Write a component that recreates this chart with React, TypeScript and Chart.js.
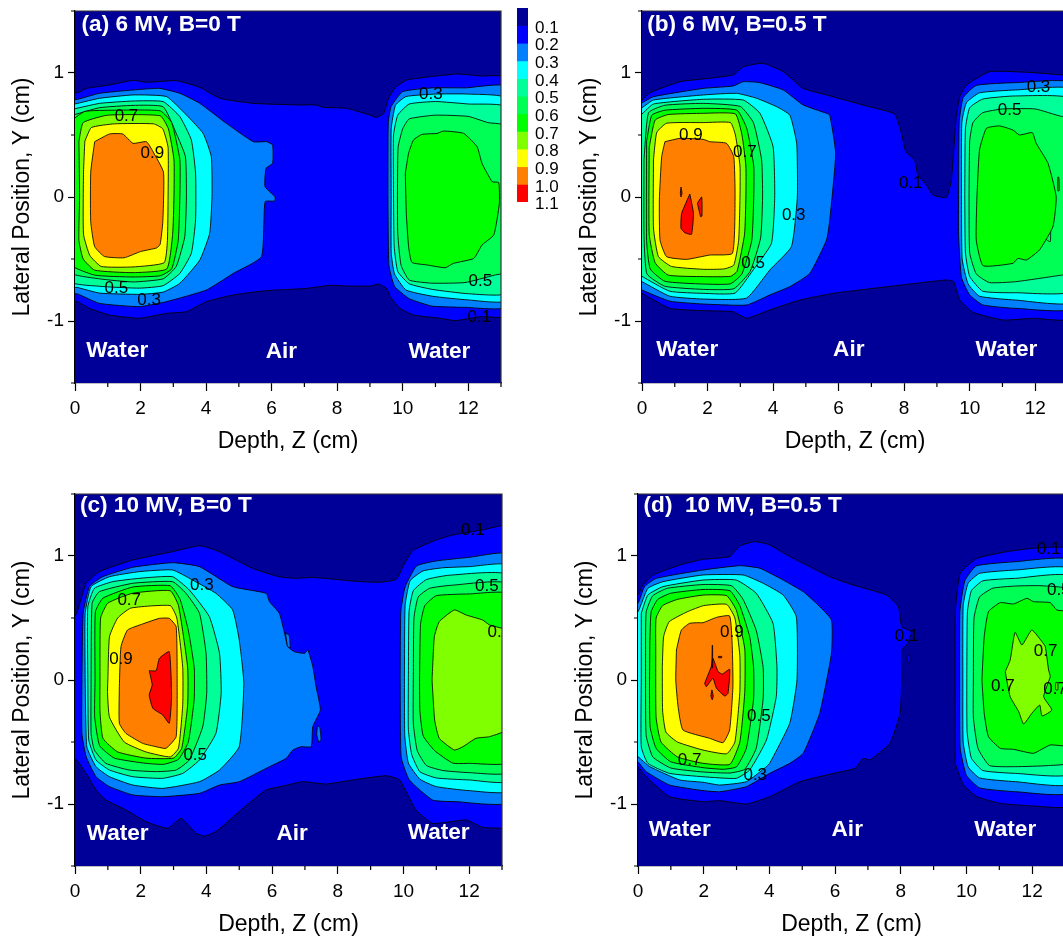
import React, { useEffect, useRef } from "react";
import { Chart, registerables } from "chart.js";

Chart.register(...registerables);

type Contour = [number, number[]];
type Label = [string, number, number];

const levels = [0, 0.1, 0.2, 0.3, 0.4, 0.5, 0.6, 0.7, 0.8, 0.9, 1.0];
const bandColors = ["#000099", "#0000ff", "#0080ff", "#00ffff", "#00ff99", "#00ff55", "#00ff00", "#80ff00", "#ffff00", "#ff8000", "#ff0000"];
const barLabels = ["0.1", "0.2", "0.3", "0.4", "0.5", "0.6", "0.7", "0.8", "0.9", "1.0", "1.1"];
const xTicks = [0, 2, 4, 6, 8, 10, 12];
const xMinor = [1, 3, 5, 7, 9, 11, 13];
const yTicks = [-1, 0, 1];
const yMinor = [-1.5, -0.5, 0.5, 1.5];
const backdrop = [-1, -2, 14, -2, 14, 2, -1, 2];

const contoursA: Contour[] = [
  [0.1, [-.2,.84,.08,.841,.34,.876,1.05,.903,1.77,.941,2.18,.925,3.09,.938,3.81,.884,4.42,.796,5.44,.755,6.86,.742,7.37,.742,7.58,.723,8.29,.715,9,.661,9.2,.642,9.42,.675,9.57,.796,9.78,.884,10.13,.944,10.84,.97,11.66,.992,12.37,.976,13.2,.96,13.2,-.955,12.37,-.965,11.6,-.997,11.15,-.978,10.33,-.952,9.92,-.898,9.62,-.804,9.51,-.737,9.26,-.702,9,-.718,8.29,-.718,7.78,-.712,7.07,-.737,5.85,-.755,4.83,-.79,4.01,-.844,3.4,-.925,2.79,-.938,1.97,-.978,1.05,-.952,.44,-.898,.08,-.844,-.2,-.84]],
  [0.2, [-.2,.78,.08,.788,.75,.836,1.77,.863,2.58,.876,3.2,.836,3.81,.755,4.62,.594,5.44,.446,5.85,.446,6.03,.419,6.03,.272,5.83,.231,5.8,.083,6.1,.003,6.1,-.032,5.8,-.038,5.69,-.481,4.83,-.616,4.01,-.75,2.79,-.844,1.97,-.884,.75,-.858,.08,-.782,-.2,-.77]],
  [0.3, [-.2,.74,.08,.755,.75,.796,1.77,.823,2.79,.81,3.4,.661,3.91,.513,4.16,.325,4.18,.003,4.11,-.293,3.81,-.508,3.2,-.696,2.69,-.767,1.97,-.785,.75,-.775,.08,-.73,-.2,-.72]],
  [0.4, [-.2,.7,.75,.755,1.77,.774,2.69,.769,3.2,.648,3.55,.46,3.68,.19,3.68,-.185,3.55,-.454,3.2,-.616,2.69,-.715,1.97,-.735,.75,-.72,-.2,-.675]],
  [0.5, [-.2,.65,.75,.72,1.77,.739,2.69,.728,3.09,.513,3.37,.325,3.4,0,3.35,-.32,3.09,-.56,2.69,-.66,1.77,-.685,.75,-.66,-.2,-.6]],
  [0.6, [-.2,.6,.3,.69,1.2,.7,2.6,.695,2.95,.6,3.2,.3,3.2,0,3.15,-.35,2.95,-.58,2.6,-.635,1.77,-.645,.6,-.63,-.2,-.53]],
  [0.7, [.12,.45,.25,.6,1,.66,2.6,.655,2.85,.55,3.02,.3,3.02,0,2.98,-.3,2.8,-.58,1.77,-.61,.6,-.59,.25,-.5,.12,-.35,.14,0]],
  [0.8, [.3,.45,.5,.56,1.2,.59,2.4,.59,2.68,.55,2.84,.4,2.84,0,2.82,-.35,2.72,-.53,1.77,-.564,.8,-.56,.45,-.47,.26,-.3,.26,.2]],
  [0.9, [.6,.446,1.05,.508,1.46,.508,1.77,.433,2.18,.446,2.38,.366,2.7,.2,2.68,-.2,2.6,-.38,2.5,-.41,2,-.44,1.5,-.49,.9,-.48,.6,-.4,.48,-.2,.48,.2]],
  [0.2, [9.55,0,9.56,.6,9.65,.73,10,.85,10.9,.88,11.9,.88,13.2,.885,13.2,-.88,11.9,-.89,10.9,-.88,10.2,-.82,9.75,-.72,9.58,-.55]],
  [0.3, [9.65,0,9.65,.55,9.78,.74,10.1,.81,11,.83,12,.83,13.2,.79,13.2,-.83,12,-.83,10.9,-.8,10.1,-.75,9.75,-.62,9.65,-.45]],
  [0.4, [9.72,0,9.72,.5,9.85,.66,10.2,.75,11,.77,12,.75,13.2,.72,13.2,-.77,12,-.78,10.9,-.745,10.2,-.7,9.85,-.6,9.74,-.4]],
  [0.5, [9.84,0,9.86,.4,10,.55,10.2,.63,11,.66,12,.65,12.6,.6,13.2,.57,13.2,-.6,12.8,-.63,11.9,-.69,10.9,-.695,10.2,-.67,9.95,-.55,9.85,-.3]],
  [0.6, [10.08,.191,10.18,.352,10.33,.46,10.59,.505,11.05,.513,11.25,.532,11.86,.513,12.27,.406,12.42,.272,12.73,.124,12.93,.116,12.95,-.051,12.78,-.306,12.42,-.387,12.17,-.495,11.55,-.535,11.3,-.57,10.74,-.548,10.28,-.527,10.18,-.4,10.11,-.132]],
];

const contoursB: Contour[] = [
  [0.1, [-.2,.75,0,.782,.24,.841,1.16,.93,1.87,.952,2.78,.984,3.09,1.051,3.7,1.078,4.31,1.011,4.92,.876,5.63,.823,6.85,.734,7.71,.669,7.92,.513,8.05,.366,8.32,.298,8.42,.177,8.68,.097,8.88,.016,9.29,-.003,9.44,.137,9.59,.648,9.7,.809,9.9,.903,10.61,1.011,11.93,1.003,12.83,.984,13.2,.98,13.2,-.975,11.93,-.978,11.02,-.992,10.1,-.93,9.7,-.831,9.51,-.683,9.29,-.669,8.37,-.696,7.05,-.737,5.83,-.777,4.82,-.831,3.9,-.911,3.19,-.978,2.78,-.925,1.87,-.917,.85,-.898,0,-.777,-.2,-.75]],
  [0.2, [-.2,.74,0,.76,.35,.809,1.87,.876,2.78,.895,3.09,.93,3.6,.922,4.31,.863,4.92,.742,5.63,.675,5.73,.661,5.91,.352,5.73,-.185,5.63,-.347,5.12,-.616,4.51,-.723,3.9,-.79,3.19,-.871,1.87,-.863,.85,-.84,0,-.75,-.2,-.72]],
  [0.3, [-.2,.7,0,.72,.35,.782,1.87,.823,2.89,.836,3.5,.796,4.11,.728,4.51,.661,4.72,.433,4.74,0,4.56,-.4,3.9,-.589,3.19,-.815,1.87,-.823,.85,-.8,0,-.683,-.2,-.66]],
  [0.4, [-.2,.64,0,.67,.35,.75,1.87,.788,3.09,.782,3.6,.675,4,.406,4.05,0,3.95,-.374,3.39,-.589,2.84,-.775,1.87,-.777,.85,-.76,0,-.64,-.2,-.6]],
  [0.5, [.06,.3,.2,.68,.7,.74,1.87,.755,3,.73,3.4,.6,3.65,.3,3.68,0,3.62,-.33,3.3,-.6,2.8,-.74,1.87,-.745,.7,-.72,.15,-.62,.06,-.3]],
  [0.6, [.14,.45,.3,.66,.7,.7,1.87,.715,2.9,.7,3.2,.55,3.41,.25,3.41,0,3.35,-.35,3.05,-.62,2.7,-.7,1.87,-.702,.7,-.68,.25,-.58,.14,-.35]],
  [0.7, [.22,.4,.4,.62,.8,.665,1.87,.675,2.85,.67,3.05,.5,3.17,.25,3.17,0,3.13,-.3,2.9,-.6,2.7,-.64,1.87,-.642,.8,-.63,.4,-.53,.22,-.3]],
  [0.8, [.35,.3,.45,.52,.75,.595,1.87,.6,2.7,.6,2.85,.5,2.99,.25,2.99,0,2.95,-.35,2.8,-.55,2.5,-.58,1.87,-.583,.9,-.56,.5,-.48,.35,-.25]],
  [0.9, [.7,.446,1.16,.473,1.87,.465,2.07,.446,2.58,.433,2.8,.325,2.84,0,2.76,-.454,2.07,-.468,1.36,-.503,.75,-.481,.55,-.347,.53,-.024,.6,.325]],
  [1.0, [1.46,.024,1.57,-.132,1.51,-.301,1.31,-.288,1.19,-.253,1.21,-.132]],
  [1.0, [1.69,-.05,1.82,0,1.83,-.153,1.79,-.159]],
  [1.0, [1.19,.08,1.22,.03,1.19,0,1.17,.03]],
  [0.2, [9.66,0,9.68,.6,9.8,.8,10.2,.9,11.4,.922,13.2,.91,13.2,-.89,11.4,-.898,10.4,-.87,10,-.79,9.75,-.65,9.66,-.3]],
  [0.3, [9.75,0,9.76,.6,9.9,.76,10.3,.84,11.4,.863,13.2,.86,13.2,-.84,11.4,-.831,10.3,-.8,9.95,-.7,9.77,-.5]],
  [0.4, [9.85,0,9.87,.55,10,.72,10.4,.79,11.4,.815,13.2,.78,13.2,-.75,11.4,-.772,10.4,-.76,10,-.64,9.87,-.45]],
  [0.5, [9.98,0,10,.45,10.1,.6,10.4,.68,11,.71,12,.71,12.8,.65,13.2,.65,13.2,-.61,12.8,-.63,11.4,-.683,10.6,-.69,10.2,-.62,10,-.45]],
  [0.6, [10.22,0,10.3,.379,10.51,.554,10.91,.573,11.32,.54,11.52,.5,11.91,.519,12.03,.433,12.39,.272,12.64,0,12.54,-.239,12.13,-.427,11.73,-.508,11.47,-.495,11.32,-.535,10.41,-.554,10.2,-.347]],
  [0.6, [12.69,.16,12.72,.16,12.73,.05,12.69,.05]],
  [0.5, [12.33,-.24,12.46,-.24,12.46,-.36,12.33,-.34]],
];

const contoursC: Contour[] = [
  [0.1, [-.2,.45,.05,.538,.34,.78,.74,.874,1.76,.968,2.97,1.035,3.79,1.083,4.4,1.035,5.41,.9,6.22,.833,6.73,.82,7.24,.828,8.46,.798,9.27,.788,9.78,.812,9.98,.914,10.28,1.043,10.99,1.129,11.5,1.169,12.41,1.21,13.2,1.24,13.2,-1.177,12.41,-1.188,11.91,-1.129,10.89,-1.156,10.38,-1.048,9.88,-.806,9.47,-.772,8.46,-.806,7.64,-.839,6.93,-.82,6.33,-.855,5.82,-.887,5.11,-1.035,4.29,-1.223,3.94,-1.258,3.69,-1.237,3.23,-1.116,2.82,-1.196,2.16,-1.142,1.55,-1.048,.94,-.968,.64,-.887,.34,-.753,.05,-.645,-.2,-.6]],
  [0.2, [.21,0,.25,.538,.44,.753,.84,.833,1.76,.909,2.97,.946,3.79,.914,4.8,.753,5.82,.699,5.92,.632,6.22,.538,6.38,.376,6.48,.269,6.68,.228,6.99,.215,7.09,.242,7.24,.108,7.34,-.054,7.47,-.242,7.24,-.376,7.19,-.538,6.88,-.538,6.63,-.565,6.43,-.632,5.92,-.699,5,-.82,4.4,-.847,3.79,-.914,2.67,-.941,1.76,-.927,1.05,-.86,.64,-.78,.34,-.618,.21,-.43]],
  [0.3, [.31,0,.31,.538,.49,.753,1.05,.833,1.96,.874,2.97,.887,3.58,.806,4.29,.699,4.8,.565,5,.323,5.14,-.027,5,-.538,4.4,-.726,3.79,-.82,2.67,-.874,1.76,-.847,1.05,-.78,.64,-.699,.36,-.538]],
  [0.4, [.39,0,.39,.59,.59,.739,1.15,.793,1.96,.82,2.97,.833,3.48,.726,4.09,.511,4.4,.215,4.45,-.108,4.29,-.43,3.79,-.645,3.28,-.753,2.67,-.793,1.76,-.78,1.05,-.726,.64,-.645,.42,-.484]],
  [0.5, [.49,0,.52,.618,.74,.712,1.76,.78,2.97,.793,3.38,.699,3.79,.538,3.99,.215,4.01,-.108,3.89,-.376,3.48,-.645,3.08,-.726,2.47,-.739,1.65,-.726,.94,-.672,.59,-.565,.49,-.43]],
  [0.6, [.61,0,.62,.55,.85,.66,1.76,.75,2.9,.76,3.2,.65,3.45,.4,3.63,.1,3.63,-.15,3.45,-.5,3.15,-.64,2.7,-.68,2.16,-.672,1.2,-.63,.75,-.53,.6,-.3]],
  [0.7, [.76,0,.78,.5,1,.62,1.76,.7,2.9,.72,3.15,.6,3.43,.1,3.43,-.2,3.25,-.55,3,-.63,2.16,-.63,1.3,-.58,.85,-.47,.76,-.25]],
  [0.8, [1,0,1.05,.35,1.3,.5,1.7,.58,2.9,.6,3.1,.5,3.28,.1,3.28,-.2,3.15,-.55,2.9,-.62,2.16,-.58,1.5,-.5,1.05,-.3,.99,-.1]],
  [0.9, [1.35,-.054,1.4,.269,1.6,.403,2.06,.452,2.57,.497,2.87,.497,3.08,.43,3.11,0,3.08,-.457,2.77,-.551,2.47,-.538,2.06,-.511,1.55,-.43,1.35,-.349]],
  [1.0, [2.26,.075,2.47,.075,2.57,.175,2.87,.228,2.94,-.134,2.87,-.349,2.67,-.282,2.37,-.228,2.26,-.121,2.35,-.04]],
  [0.2, [9.9,0,9.92,.55,10.05,.75,10.4,.92,11,.96,12,.989,13.2,1.01,13.2,-.98,11.6,-.981,10.89,-.968,10.18,-.806,9.93,-.62]],
  [0.3, [10.03,0,10.05,.6,10.2,.8,10.6,.88,11.2,.905,12,.914,13.2,.92,13.2,-.89,12,-.892,11,-.86,10.5,-.8,10.15,-.67,10.04,-.45]],
  [0.4, [10.15,0,10.17,.55,10.3,.72,10.7,.81,11.4,.845,13.2,.84,13.2,-.81,12,-.806,11,-.79,10.5,-.74,10.25,-.6,10.15,-.4]],
  [0.5, [10.3,0,10.32,.5,10.45,.67,10.8,.74,11.5,.765,13.2,.77,13.2,-.74,12,-.747,11.2,-.73,10.7,-.69,10.42,-.57,10.3,-.35]],
  [0.6, [10.49,0,10.52,.45,10.65,.6,11,.68,12,.694,13.2,.69,13.2,-.66,12,-.672,11.5,-.67,10.95,-.57,10.6,-.45,10.5,-.25]],
  [0.7, [10.87,0,10.94,.349,11.09,.47,11.55,.565,11.91,.524,12.41,.484,12.62,.444,13.2,.39,13.2,-.39,12.62,-.457,12.21,-.47,11.81,-.538,11.55,-.565,11.09,-.47,10.95,-.323]],
  [0.2, [6.41,.38,6.52,.36,6.55,.26,6.47,.27]],
  [0.2, [7.38,-.37,7.45,-.38,7.49,-.48,7.42,-.5,7.36,-.44]],
];

const contoursD: Contour[] = [
  [0.1, [-.2,.66,0,.685,.15,.766,.46,.847,1.27,.927,1.98,.973,2.79,.995,3.1,1.081,3.55,1.116,4.01,1.089,4.62,.995,5.23,.914,5.84,.833,6.45,.774,7.57,.685,7.93,.591,8.03,.43,8.33,.39,8.18,.282,8.03,.242,8.03,0,7.98,-.269,7.67,-.511,7.06,-.645,6.86,-.632,6.61,-.712,5.95,-.753,4.93,-.82,4.01,-.941,3.3,-1,2.49,-.973,1.98,-.981,.96,-.941,.25,-.78,0,-.699,-.2,-.67]],
  [0.1, [9.66,-.538,9.66,.538,9.81,.86,10.32,.981,11.23,1.035,12.04,1.062,13.2,1.05,13.2,-1.008,12.04,-1.016,11.03,-.995,10.32,-.941,9.91,-.847,9.66,-.672]],
  [0.1, [8.2,.2,8.27,.2,8.27,.14,8.2,.14]],
  [0.2, [-.2,.6,0,.618,.2,.753,.56,.82,1.98,.887,3.1,.922,3.71,.901,4.42,.806,5.03,.712,5.43,.618,5.89,.484,5.89,.215,5.53,-.269,5.03,-.591,4.62,-.672,4.01,-.753,3.3,-.86,2.49,-.901,1.98,-.892,.96,-.847,.25,-.739,0,-.659,-.2,-.63]],
  [0.3, [-.2,.52,0,.55,.3,.739,.76,.793,1.98,.847,3.2,.847,3.81,.78,4.42,.685,4.82,.511,4.84,0,4.62,-.349,4.01,-.672,3.91,-.699,3.3,-.82,2.49,-.847,1.98,-.825,1.27,-.806,.36,-.699,0,-.618,-.2,-.59]],
  [0.4, [.1,.538,.3,.685,.76,.753,1.98,.806,2.99,.806,3.6,.699,4.11,.457,4.23,.108,4.21,-.134,3.91,-.484,3.4,-.726,2.99,-.793,1.98,-.78,.96,-.753,.3,-.672,.1,-.538,.1,0]],
  [0.5, [.23,.3,.25,.55,.45,.68,.9,.74,1.98,.77,2.85,.76,3.2,.65,3.6,.4,3.81,.1,3.81,-.15,3.6,-.55,3.25,-.72,2.8,-.75,1.98,-.742,1,-.71,.45,-.62,.25,-.45,.23,-.1]],
  [0.6, [.36,.3,.4,.55,.6,.65,1,.7,1.98,.73,2.8,.72,3.1,.6,3.4,.35,3.52,.1,3.52,-.15,3.3,-.55,3,-.7,2.6,-.72,1.98,-.707,1,-.66,.55,-.55,.37,-.38,.35,-.1]],
  [0.7, [.54,.25,.55,.5,.75,.6,1.2,.65,1.98,.685,2.7,.68,3,.56,3.25,.25,3.25,-.1,3.1,-.5,2.8,-.68,1.98,-.672,1.2,-.62,.7,-.5,.55,-.3]],
  [0.8, [.74,.1,.78,.35,.95,.47,1.5,.55,2,.6,2.7,.61,2.95,.5,3.1,.2,3.1,-.1,2.95,-.5,2.7,-.595,1.98,-.565,1.2,-.5,.85,-.42,.75,-.25]],
  [0.9, [1.17,.242,1.32,.403,1.57,.457,1.83,.462,1.98,.462,2.39,.505,2.79,.516,2.87,.269,2.89,-.054,2.79,-.403,2.59,-.505,2.18,-.47,1.37,-.403,1.22,-.215,1.15,0]],
  [1.0, [2.03,-.027,2.23,.108,2.28,.175,2.44,.067,2.57,.048,2.79,.086,2.74,-.108,2.64,-.129,2.39,-.067,2.28,.013,2.08,-.054]],
  [1.0, [2.25,-.08,2.29,-.13,2.26,-.16,2.22,-.13]],
  [1.0, [2.26,.28,2.27,.28,2.27,.1,2.25,.1]],
  [1.0, [2.45,.19,2.55,.19,2.55,.18,2.45,.18]],
  [0.2, [9.79,0,9.8,.55,9.95,.8,10.3,.92,11.5,.954,13.2,.96,13.2,-.9,11.5,-.901,10.4,-.87,10,-.77,9.81,-.55]],
  [0.3, [9.89,0,9.9,.6,10.05,.78,10.4,.86,11.5,.887,13.2,.89,13.2,-.83,11.5,-.82,10.4,-.79,10.05,-.7,9.9,-.5]],
  [0.4, [10.01,0,10.03,.55,10.15,.72,10.5,.8,11.5,.82,13.2,.83,13.2,-.75,11.5,-.753,10.5,-.73,10.15,-.63,10.02,-.42]],
  [0.5, [10.21,0,10.23,.5,10.4,.67,10.8,.74,11.5,.758,12.3,.76,13.2,.72,13.2,-.66,12.5,-.69,11.5,-.699,10.7,-.69,10.35,-.55,10.21,-.3]],
  [0.6, [10.47,0,10.54,.349,10.67,.551,11.03,.624,11.43,.613,11.84,.659,12.04,.632,12.55,.624,12.75,.565,13.2,.54,13.2,-.524,12.55,-.524,12.04,-.591,11.43,-.559,11.03,-.551,10.67,-.457,10.54,-.269]],
  [0.7, [11.18,.067,11.33,.161,11.48,.384,11.69,.282,11.99,.403,12.3,.309,12.4,.269,12.5,.081,12.55,.027,12.35,-.134,12.6,-.242,12.3,-.29,12.23,-.202,11.99,-.269,11.74,-.355,11.59,-.255,11.33,-.134]],
  [0.7, [12.72,-.02,12.78,-.02,12.78,-.08,12.72,-.08]],
];

const contourLabelsA: Label[] = [["0.7",1.57,.648],["0.9",2.36,.352],["0.5",1.26,-.737],["0.3",2.26,-.831],["0.3",10.86,.828],["0.5",12.37,-.683],["0.1",12.34,-.973]];
const contourLabelsB: Label[] = [["0.9",1.49,.5],["0.7",3.14,.358],["0.3",4.63,-.145],["0.5",3.39,-.535],["0.3",12.1,.882],["0.5",11.22,.696],["0.1",8.2,.11]];
const contourLabelsC: Label[] = [["0.7",1.65,.645],["0.9",1.4,.167],["0.3",3.86,.766],["0.5",3.66,-.61],["0.1",12.11,1.21],["0.5",12.54,.758],["0.7",12.92,.384]];
const contourLabelsD: Label[] = [["0.9",2.86,.382],["0.5",3.68,-.29],["0.7",1.57,-.645],["0.3",3.57,-.766],["0.1",8.18,.349],["0.1",12.5,1.056],["0.5",12.81,.726],["0.7",12.41,.228],["0.7",11.11,-.048],["0.7",12.7,-.075]];

const regionLabelsA: Label[] = [["Water",1.29,-1.24],["Air",6.3,-1.245],["Water",11.12,-1.25]];
const regionLabelsB: Label[] = [["Water",1.38,-1.228],["Air",6.31,-1.228],["Water",11.12,-1.228]];
const regionLabelsC: Label[] = [["Water",1.3,-1.237],["Air",6.61,-1.242],["Water",11.07,-1.228]];
const regionLabelsD: Label[] = [["Water",1.27,-1.21],["Air",6.37,-1.21],["Water",11.18,-1.21]];

const FONT = "'Liberation Sans', Arial, sans-serif";

type PanelProps = {
  left: number; top: number; width: number;
  title: string; titleAt: [number, number];
  contours: Contour[]; contourLabels: Label[]; regionLabels: Label[];
};

function toPoints(flat: number[]) {
  const out: { x: number; y: number }[] = [];
  for (let i = 0; i < flat.length; i += 2) out.push({ x: flat[i], y: flat[i + 1] });
  out.push({ x: flat[0], y: flat[1] });
  return out;
}

function Panel({ left, top, width, title, titleAt, contours, contourLabels, regionLabels }: PanelProps) {
  const ref = useRef<HTMLCanvasElement>(null);
  const axisW = 75, axisH = 80, padTop = 11, padRight = 12, plotH = 372;
  useEffect(() => {
    const ordered = [...contours].sort((a, b) => a[0] - b[0]);
    const datasets: any[] = [
      { data: toPoints(backdrop), showLine: true, pointRadius: 0, borderWidth: 0, fill: "shape", backgroundColor: bandColors[0], order: 1000 },
      ...ordered.map(([lv, pts], i) => ({
        data: toPoints(pts), showLine: true, pointRadius: 0, pointHoverRadius: 0,
        borderColor: "rgba(0,0,0,0.85)", borderWidth: 1, tension: 0.15, capBezierPoints: false,
        fill: "shape", backgroundColor: bandColors[levels.findIndex((l) => Math.abs(l - lv) < 1e-6)],
        order: 999 - i,
      })),
    ];
    const marks = {
      id: "marks",
      afterDatasetsDraw(chart: any) {
        const { ctx, chartArea: a, scales: { x, y } } = chart;
        ctx.save();
        ctx.beginPath();
        ctx.rect(a.left, a.top, a.right - a.left, a.bottom - a.top);
        ctx.clip();
        ctx.textAlign = "center";
        ctx.textBaseline = "middle";
        ctx.fillStyle = "#000";
        ctx.font = `17px ${FONT}`;
        for (const [t, zv, yv] of contourLabels) ctx.fillText(t, x.getPixelForValue(zv), y.getPixelForValue(yv));
        ctx.fillStyle = "#fff";
        ctx.font = `bold 22.6px ${FONT}`;
        for (const [t, zv, yv] of regionLabels) ctx.fillText(t, x.getPixelForValue(zv), y.getPixelForValue(yv));
        ctx.textAlign = "left";
        ctx.fillText(title, x.getPixelForValue(titleAt[0]), y.getPixelForValue(titleAt[1]));
        ctx.restore();
      },
      afterDraw(chart: any) {
        const { ctx, chartArea: a, scales: { x, y } } = chart;
        ctx.save();
        ctx.strokeStyle = "#333";
        ctx.lineWidth = 1.2;
        ctx.beginPath();
        ctx.moveTo(a.left, a.top);
        ctx.lineTo(a.right, a.top);
        ctx.lineTo(a.right, a.bottom);
        ctx.stroke();
        ctx.strokeStyle = "#000";
        ctx.beginPath();
        for (const v of xMinor) {
          const p = x.getPixelForValue(v);
          ctx.moveTo(p, a.bottom);
          ctx.lineTo(p, a.bottom + 4);
        }
        for (const v of yMinor) {
          const p = y.getPixelForValue(v);
          ctx.moveTo(a.left, p);
          ctx.lineTo(a.left - 4, p);
        }
        ctx.stroke();
        ctx.restore();
      },
    };
    const tickFont = { family: FONT, size: 19 };
    const titleFont = { family: FONT, size: 23 };
    const chart = new Chart(ref.current!, {
      type: "scatter",
      data: { datasets },
      plugins: [marks],
      options: {
        animation: false,
        responsive: false,
        events: [],
        layout: { padding: { top: padTop, right: padRight, left: 0, bottom: 0 } },
        plugins: { legend: { display: false }, tooltip: { enabled: false } },
        scales: {
          x: {
            type: "linear", min: 0, max: 13,
            afterBuildTicks: (s: any) => { s.ticks = xTicks.map((value) => ({ value })); },
            afterFit: (s: any) => { s.height = axisH; s.paddingLeft = 0; s.paddingRight = 0; },
            ticks: { font: tickFont, color: "#000", maxRotation: 0, autoSkip: false, padding: 6 },
            grid: { drawOnChartArea: false, tickLength: 8, tickColor: "#000", tickWidth: 1.2 },
            border: { color: "#000", width: 1.2 },
            title: { display: true, text: "Depth, Z (cm)", font: titleFont, color: "#000", padding: { top: 0, bottom: 8 } },
          },
          y: {
            type: "linear", min: -1.5, max: 1.5,
            afterBuildTicks: (s: any) => { s.ticks = yTicks.map((value) => ({ value })); },
            afterFit: (s: any) => { s.width = axisW; s.paddingTop = 0; s.paddingBottom = 0; },
            ticks: { font: tickFont, color: "#000", autoSkip: false, padding: 4, callback: (v: any) => String(v) },
            grid: { drawOnChartArea: false, tickLength: 7, tickColor: "#000", tickWidth: 1.2 },
            border: { color: "#000", width: 1.2 },
            title: { display: true, text: "Lateral Position, Y (cm)", font: titleFont, color: "#000", padding: { top: 9, bottom: 0 } },
          },
        },
      } as any,
    });
    return () => chart.destroy();
  }, []);
  return (
    <canvas
      ref={ref}
      width={width + axisW + padRight}
      height={plotH + padTop + axisH}
      style={{ position: "absolute", left: left - axisW, top: top - padTop, display: "block" }}
    />
  );
}

function ColorBar() {
  const ref = useRef<HTMLCanvasElement>(null);
  useEffect(() => {
    const chart = new Chart(ref.current!, {
      type: "bar",
      data: {
        labels: [""],
        datasets: bandColors.map((c, i) => ({
          data: [[i / 10, (i + 1) / 10]],
          backgroundColor: c, borderWidth: 0, grouped: false,
          barPercentage: 1, categoryPercentage: 1,
        })),
      } as any,
      options: {
        animation: false,
        responsive: false,
        events: [],
        layout: { padding: { top: 8, bottom: 23, left: 0, right: 0 } },
        plugins: { legend: { display: false }, tooltip: { enabled: false } },
        scales: {
          x: { display: false },
          y: {
            position: "right", reverse: true, min: 0, max: 1.1,
            afterBuildTicks: (s: any) => { s.ticks = barLabels.map((t) => ({ value: Number(t) })); },
            afterFit: (s: any) => { s.width = 39; s.paddingTop = 0; s.paddingBottom = 0; },
            ticks: { font: { family: FONT, size: 17 }, color: "#000", padding: 7, labelOffset: 2.5, autoSkip: false, callback: (v: any) => Number(v).toFixed(1) },
            grid: { display: false, drawTicks: false },
            border: { display: false },
          },
        },
      } as any,
    });
    return () => chart.destroy();
  }, []);
  return <canvas ref={ref} width={50} height={225} style={{ position: "absolute", left: 517, top: 0, display: "block" }} />;
}

export default function App() {
  return (
    <div style={{ position: "fixed", left: 0, top: 0, width: 1063, height: 936, overflow: "hidden", background: "#fff" }}>
      <Panel left={75} top={11} width={426} title="(a) 6 MV, B=0 T" titleAt={[0.2, 1.387]} contours={contoursA} contourLabels={contourLabelsA} regionLabels={regionLabelsA} />
      <Panel left={642} top={11} width={426} title="(b) 6 MV, B=0.5 T" titleAt={[0.16, 1.387]} contours={contoursB} contourLabels={contourLabelsB} regionLabels={regionLabelsB} />
      <Panel left={75} top={494} width={427} title="(c) 10 MV, B=0 T" titleAt={[0.15, 1.403]} contours={contoursC} contourLabels={contourLabelsC} regionLabels={regionLabelsC} />
      <Panel left={638} top={494} width={427} title="(d)  10 MV, B=0.5 T" titleAt={[0.17, 1.403]} contours={contoursD} contourLabels={contourLabelsD} regionLabels={regionLabelsD} />
      <ColorBar />
    </div>
  );
}
